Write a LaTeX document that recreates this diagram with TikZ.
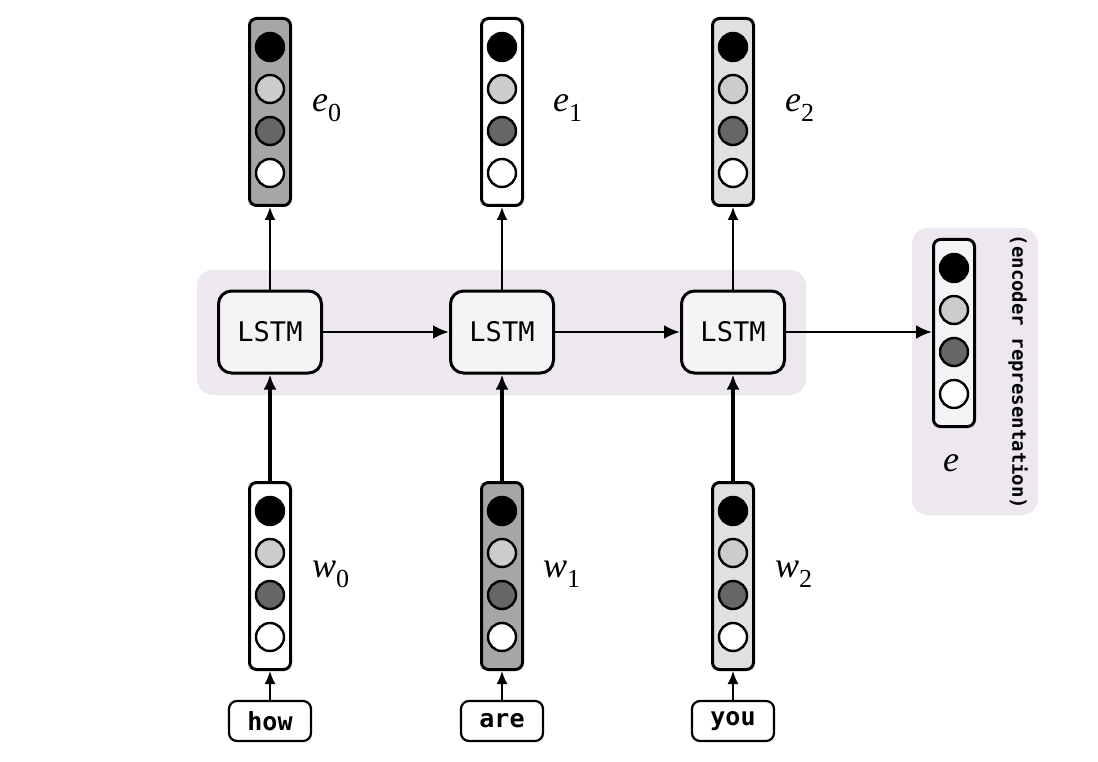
\documentclass[tikz,border=0pt]{standalone}
\usepackage{fontspec}
\setmainfont{Liberation Serif}
\setmonofont{DejaVu Sans Mono}
\usetikzlibrary{arrows.meta}
\definecolor{panelc}{HTML}{EDE8EF}
\definecolor{boxfill}{HTML}{F6F3F7}
\definecolor{midgray}{HTML}{A6A6A6}
\definecolor{litgray}{HTML}{E0E0E0}
\definecolor{dotlight}{HTML}{CCCCCC}
\definecolor{dotdark}{HTML}{666666}
\tikzset{
  vecbox/.style={draw, line width=3pt, rounded corners=7pt, minimum width=41pt, minimum height=187pt, inner sep=0pt},
  dot/.style={circle, draw, line width=2.4pt, minimum size=28pt, inner sep=0pt},
  lstmbox/.style={draw, line width=3pt, rounded corners=13pt, fill=boxfill, minimum width=103pt, minimum height=82pt, font=\ttfamily\fontsize{27}{32}\selectfont},
  wordbox/.style={draw, line width=2.2pt, rounded corners=8pt, fill=white, minimum width=82pt, minimum height=40pt, inner sep=0pt, font=\ttfamily\bfseries\fontsize{25}{30}\selectfont},
  panelbox/.style={fill=panelc, rounded corners=16pt, inner sep=0pt},
  lbl/.style={font=\fontsize{36}{40}\selectfont, inner sep=0pt},
  thinarrow/.style={line width=1.8pt, -{Latex[length=13pt,width=11pt]}},
  thickarrow/.style={line width=3.2pt, -{Latex[length=15pt,width=13pt]}},
  midarrow/.style={line width=2.8pt, -{Latex[length=16pt,width=14pt]}},
}
\newcommand\mkvec[4]{%
  \node[vecbox, fill=#4] (#1) at (#2,#3+95) {};
  \node[dot, fill=black] (#1a) at (#2,#3+30) {};
  \node[dot, fill=dotlight] (#1b) at (#2,#3+72) {};
  \node[dot, fill=dotdark] (#1c) at (#2,#3+114) {};
  \node[dot, fill=white] (#1d) at (#2,#3+156) {};
}
\newcommand\vlab[2]{\textit{#1}\raisebox{-0.28em}{\fontsize{26}{26}\selectfont #2}}
\begin{document}
\begin{tikzpicture}[x=1pt,y=-1pt]
\useasboundingbox (0,0) rectangle (1098,762);
% panels
\node[panelbox, minimum width=609pt, minimum height=125pt] (bg) at (501.5,332.5) {};
\node[panelbox, minimum width=126pt, minimum height=287pt] (rp) at (975,371.5) {};
% LSTM cells
\node[lstmbox] (l0) at (270,332) {LSTM};
\node[lstmbox] (l1) at (502,332) {LSTM};
\node[lstmbox] (l2) at (733,332) {LSTM};
% output vectors
\mkvec{e0}{270}{17}{midgray}
\mkvec{e1}{502}{17}{white}
\mkvec{e2}{733}{17}{litgray}
% input vectors
\mkvec{w0}{270}{481}{white}
\mkvec{w1}{502}{481}{midgray}
\mkvec{w2}{733}{481}{litgray}
% encoder vector
\mkvec{er}{954}{238}{boxfill}
% words
\node[wordbox] (t0) at (270,721) {how};
\node[wordbox] (t1) at (502,721) {are};
\node[wordbox] (t2) at (733,721) {you};
% labels
\node[lbl, anchor=west] (le0) at (312,108) {\vlab{e}{0}};
\node[lbl, anchor=west] (le1) at (553,108) {\vlab{e}{1}};
\node[lbl, anchor=west] (le2) at (785,108) {\vlab{e}{2}};
\node[lbl, anchor=west] (lw0) at (312,574) {\vlab{w}{0}};
\node[lbl, anchor=west] (lw1) at (543,574) {\vlab{w}{1}};
\node[lbl, anchor=west] (lw2) at (775,574) {\vlab{w}{2}};
\node[lbl] (le) at (951,463) {\textit{e}};
\node[rotate=-90, font=\ttfamily\bfseries\fontsize{19}{22}\selectfont, inner sep=0pt] (enc) at (1018,372) {(encoder representation)};
% connectors
\foreach \i in {0,1,2}{
  \draw[thinarrow] (t\i) -- (w\i);
  \draw[thickarrow] (w\i) -- (l\i);
  \draw[thinarrow] (l\i) -- (e\i);
}
\draw[midarrow] (l0) -- (l1);
\draw[midarrow] (l1) -- (l2);
\draw[midarrow] (l2) -- (l2 -| er.west);
\end{tikzpicture}
\end{document}
